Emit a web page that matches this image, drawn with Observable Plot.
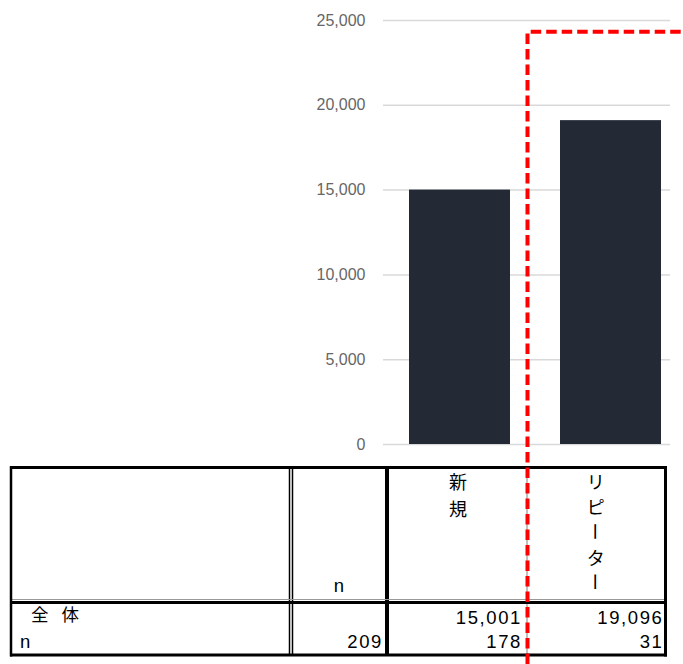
<!DOCTYPE html>
<html><head><meta charset="utf-8">
<script src="https://cdn.jsdelivr.net/npm/d3@7"></script>
<script src="https://cdn.jsdelivr.net/npm/@observablehq/plot@0.6"></script>
<style>
body{margin:0;background:#fff}
#wrap{position:relative;width:683px;height:664px;overflow:hidden;background:#fff}
#wrap > svg{position:absolute;left:0;top:0}
</style>
</head><body><div id="wrap"></div>
<script>
// ---- data ----
const categories = ["新規", "リピーター"];
const values = [15001, 19096];
const counts = [178, 31];
const totalN = 209;
const rowLabelTotal = "全 体";
const rowLabelN = "n";
const headerN = "n";
const yTicks = [0, 5000, 10000, 15000, 20000, 25000];

const data = categories.map((c, i) => ({cat: c, value: values[i]}));
const fmt = d3.format(",");
const wrap = document.getElementById("wrap");

// ---- chart ----
const chart = Plot.plot({
  width: 683, height: 460,
  marginLeft: 383, marginRight: 13, marginTop: 20, marginBottom: 16,
  style: {fontFamily: "'Liberation Sans', Arial, sans-serif", fontSize: "16px", background: "transparent"},
  x: {domain: categories, paddingInner: 0.329, paddingOuter: 0.109, align: 0.76, axis: null},
  y: {domain: [0, 25000], label: null, axis: null},
  marks: [
    Plot.gridY(yTicks, {stroke: "#d9d9d9", strokeOpacity: 1, strokeWidth: 1.5}),
    Plot.axisY(yTicks, {tickSize: 0, tickPadding: 18, tickFormat: fmt, fill: "#666", fontSize: 16, label: null}),
    Plot.barY(data, {x: "cat", y: "value", fill: "#232a35"})
  ]
});
wrap.appendChild(chart);

// ---- table ----
const colL = 11, colA = 291, colB = 387, colC = 527, colR = 665.5;
const rowT = 467.5, rowH = 602, rowB = 655;
const tbl = d3.create("svg").attr("width", 683).attr("height", 664);
const line = (x1, y1, x2, y2, w, c) => tbl.append("line")
  .attr("x1", x1).attr("y1", y1).attr("x2", x2).attr("y2", y2)
  .attr("stroke", c || "#000").attr("stroke-width", w);
// verticals
line(colA - 1.5, rowT, colA - 1.5, rowB, 1.5);
line(colA + 1.5, rowT, colA + 1.5, rowB, 1.5);
line(colB, rowT, colB, rowB, 4);
line(colC, rowT, colC, rowB, 1, "#808080");
// header bottom (thin gray + thick black)
line(colL, rowH - 2.5, colR, rowH - 2.5, 1, "#999");
line(colL, rowH + 0.5, colR, rowH + 0.5, 3.2);
// outer frame
line(colL - 1, rowT, colR + 1.5, rowT, 3);
line(colL - 1, rowB, colR + 1.5, rowB, 3);
line(colL, rowT - 1.5, colL, rowB + 1.5, 2.5);
line(colR, rowT - 1.5, colR, rowB + 1.5, 3);

const cjk = "'Noto Sans CJK JP', sans-serif";
const lat = "'Liberation Sans', Arial, sans-serif";
const txt = (s, x, y, anchor, font, size, ls) => tbl.append("text")
  .attr("x", x).attr("y", y).attr("text-anchor", anchor)
  .attr("font-family", font).attr("font-size", size)
  .attr("letter-spacing", ls || 0).attr("fill", "#000").text(s);

// header "n"
txt(headerN, (colA + colB) / 2, 592, "middle", lat, 18.5);
// vertical category headers
const colCenters = [(colB + colC) / 2 + 1, (colC + colR) / 2 - 0.5];
const pitches = [27, 25.2];
categories.forEach((c, i) => {
  Array.from(c).forEach((ch, k) => {
    const cx = colCenters[i], cy = 481 + k * pitches[i];
    const t = tbl.append("text").attr("x", cx).attr("y", cy)
      .attr("text-anchor", "middle").attr("dominant-baseline", "central")
      .attr("font-family", cjk).attr("font-size", 18).attr("fill", "#000").text(ch);
    if (ch === "ー") t.attr("transform", `rotate(90 ${cx} ${cy})`);
  });
});
// row labels
txt(rowLabelTotal, 31, 621, "start", cjk, 17.5, 4.5);
txt(rowLabelN, 20, 648, "start", lat, 18.5);
// values
const rightEdges = [colC - 5, colR - 2];
values.forEach((v, i) => txt(fmt(v), rightEdges[i], 623.5, "end", lat, 18.5, 1.6));
counts.forEach((v, i) => txt(fmt(v), rightEdges[i], 647.5, "end", lat, 18.5, 1.6));
txt(fmt(totalN), colB - 4, 647.5, "end", lat, 18.5, 1.6);
wrap.appendChild(tbl.node());

// ---- red dashed annotation ----
const ov = d3.create("svg").attr("width", 683).attr("height", 664);
ov.append("path").attr("d", "M527.5,664V31.7H683")
  .attr("fill", "none").attr("stroke", "#ff0000").attr("stroke-width", 4)
  .attr("stroke-dasharray", "10.5 5");
wrap.appendChild(ov.node());
</script></body></html>
